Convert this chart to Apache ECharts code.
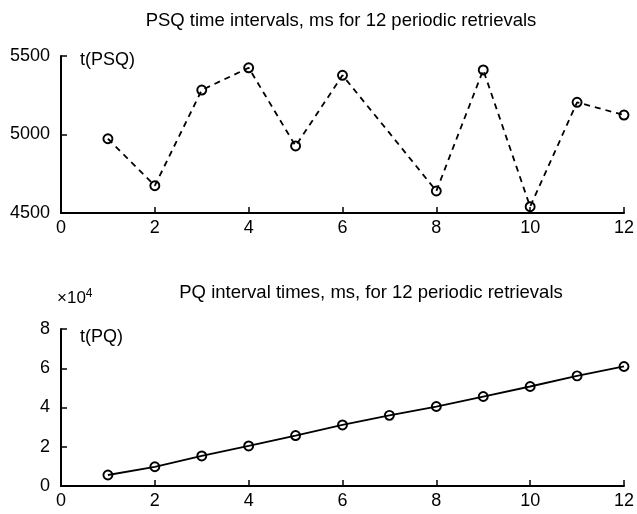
<!DOCTYPE html>
<html>
<head>
<meta charset="utf-8">
<script src="https://cdn.jsdelivr.net/npm/echarts@6/dist/echarts.min.js"></script>
<style>
html,body{margin:0;padding:0;background:#fff;}
#c{width:637px;height:514px;}
</style>
</head>
<body>
<div id="c"></div>
<script>
const retrievals = [1,2,3,4,5,6,7,8,9,10,11,12];
const psqValues = [4973,4674,5283,5425,4927,5377,5010,4640,5411,4540,5205,5124];
const pqValues = [5600,9800,15300,20400,25700,31100,36000,40500,45600,50700,56100,60900];
const hiddenMarkerIndex = [6];
const topTitle = 'PSQ time intervals, ms for 12 periodic retrievals';
const bottomTitle = 'PQ interval times, ms, for 12 periodic retrievals';

const FONT = 'Liberation Sans';
const chart = echarts.init(document.getElementById('c'));

const topData = retrievals.map((x,i)=> hiddenMarkerIndex.includes(i)
  ? {value:[x,psqValues[i]], symbol:'none'} : [x,psqValues[i]]);
const botData = retrievals.map((x,i)=>[x,pqValues[i]/10000]);

function xAxis(gi){
  return {
    type:'value', gridIndex:gi, min:0, max:12, interval:2,
    axisLine:{show:true,lineStyle:{color:'#000',width:2}},
    axisTick:{show:true,inside:true,length:6,lineStyle:{color:'#000',width:1.5}},
    axisLabel:{color:'#000',fontFamily:FONT,fontSize:18,margin:6,formatter:v=>String(v)},
    splitLine:{show:false}
  };
}
function yAxis(gi,min,max,interval){
  return {
    type:'value', gridIndex:gi, min:min, max:max, interval:interval,
    axisLine:{show:true,lineStyle:{color:'#000',width:2}},
    axisTick:{show:true,inside:true,length:6,lineStyle:{color:'#000',width:1.5}},
    axisLabel:{color:'#000',fontFamily:FONT,fontSize:18,margin:11,formatter:v=>String(v)},
    splitLine:{show:false}
  };
}

chart.setOption({
  backgroundColor:'#fff',
  animation:false,
  title:[
    {text:topTitle,left:336,top:6,textAlign:'center',
     textStyle:{fontFamily:FONT,fontSize:18.5,fontWeight:'normal',color:'#000'}},
    {text:bottomTitle,left:366,top:278,textAlign:'center',
     textStyle:{fontFamily:FONT,fontSize:18.5,fontWeight:'normal',color:'#000'}}
  ],
  grid:[
    {left:61,right:11,top:56,height:157},
    {left:61,right:11,top:329,height:157}
  ],
  xAxis:[xAxis(0),xAxis(1)],
  yAxis:[yAxis(0,4500,5500,500),yAxis(1,0,8,2)],
  graphic:[
    {type:'text',left:80,top:51,style:{text:'t(PSQ)',fontFamily:FONT,fontSize:18,fill:'#000'}},
    {type:'text',left:80,top:328,style:{text:'t(PQ)',fontFamily:FONT,fontSize:18,fill:'#000'}},
    {type:'text',left:57,top:288,style:{text:'×10{s|4}',fontFamily:FONT,fontSize:17,fill:'#000',
      rich:{s:{fontSize:12,verticalAlign:'top',padding:[0,0,9,0],fontFamily:FONT}}}}
  ],
  series:[
    {type:'line',xAxisIndex:0,yAxisIndex:0,data:topData,
     symbol:'circle',symbolSize:9,showSymbol:true,
     lineStyle:{color:'#000',width:1.8,type:[6,5]},
     itemStyle:{color:'transparent',borderColor:'#000',borderWidth:1.9}},
    {type:'line',xAxisIndex:1,yAxisIndex:1,data:botData,
     symbol:'circle',symbolSize:9,showSymbol:true,
     lineStyle:{color:'#000',width:1.8},
     itemStyle:{color:'transparent',borderColor:'#000',borderWidth:1.9}}
  ]
});
</script>
</body>
</html>
